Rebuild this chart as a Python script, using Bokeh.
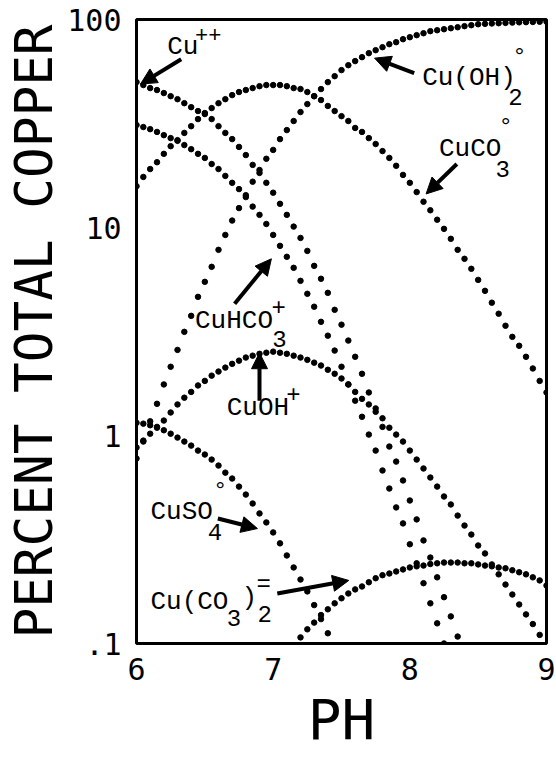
import numpy as np
from bokeh.plotting import figure
from bokeh.models import Arrow, NormalHead, FixedTicker, Range1d, Label
from bokeh.embed import file_html
from bokeh.resources import INLINE

# pH grid (every 0.05 pH unit, 6.00 .. 9.00)
ph_grid = [round(6.0 + 0.05 * i, 2) for i in range(61)]

# Percent of total copper for each species
cu_pp = [50.0, 48.4, 46.8, 45.8, 44.3, 42.8, 41.4, 39.6, 37.9, 36.3, 35.1, 33.2, 30.7, 28.5, 26.6, 24.4,
         22.3, 20.0, 18.3, 16.4, 14.7, 13.0, 11.5, 10.1, 8.91, 7.72, 6.54, 5.67, 4.85, 4.02, 3.41, 2.86,
         2.39, 1.98, 1.61, 1.35, 1.10, 0.885, 0.749, 0.608, 0.487, 0.395, 0.313, 0.259, 0.208, 0.167,
         0.135, 0.108]
cuhco3 = [31.1, 30.4, 29.7, 28.8, 27.8, 26.9, 26.1, 24.9, 23.8, 22.6, 21.6, 20.2, 19.1, 17.7, 16.4, 15.3,
          14.0, 12.6, 11.5, 10.4, 9.21, 8.16, 7.23, 6.40, 5.54, 4.80, 4.16, 3.52, 3.02, 2.56, 2.14, 1.76,
          1.47, 1.23, 1.01, 0.846, 0.679, 0.556, 0.451, 0.378, 0.30, 0.243, 0.195, 0.156, 0.125, 0.100]
cuco3 = [15.8, 17.5, 19.1, 20.6, 22.6, 24.6, 26.3, 28.5, 30.7, 33.2, 35.5, 37.5, 39.6, 41.4, 43.3, 44.8,
         45.8, 46.8, 47.8, 48.4, 48.4, 48.4, 47.8, 46.8, 46.3, 44.8, 42.8, 41.0, 38.4, 36.3, 34.3, 32.5,
         30.1, 28.8, 26.9, 25.2, 23.3, 21.6, 19.8, 17.9, 16.4, 14.8, 13.3, 12.1, 10.9, 9.85, 8.82, 7.81,
         7.07, 6.33, 5.60, 4.96, 4.35, 3.85, 3.37, 2.98, 2.70, 2.39, 2.10, 1.83, 1.61]
cuoh2 = [0.775, 0.935, 1.17, 1.42, 1.76, 2.14, 2.58, 3.15, 3.76, 4.64, 5.48, 6.47, 7.81, 9.21, 10.8, 12.4,
         14.3, 16.6, 18.9, 21.4, 23.6, 26.6, 29.4, 32.5, 35.9, 39.2, 42.8, 46.3, 50.0, 53.4, 57.1, 60.3,
         63.1, 65.9, 68.9, 71.2, 73.6, 76.1, 77.8, 80.4, 82.2, 84.1, 85.9, 87.9, 88.8, 89.8, 90.8, 91.8,
         92.9, 93.9, 94.9, 95.3, 95.7, 96.0, 96.3, 96.6, 96.9, 97.1, 97.3, 97.5, 97.6]
cuoh = [0.875, 0.945, 1.02, 1.10, 1.18, 1.29, 1.41, 1.52, 1.62, 1.74, 1.83, 1.94, 2.03, 2.12, 2.21, 2.29,
        2.37, 2.42, 2.47, 2.50, 2.53, 2.50, 2.47, 2.42, 2.37, 2.31, 2.24, 2.17, 2.07, 1.98, 1.88, 1.76,
        1.62, 1.50, 1.41, 1.30, 1.21, 1.09, 1.01, 0.935, 0.846, 0.766, 0.694, 0.628, 0.568, 0.509, 0.466,
        0.412, 0.369, 0.334, 0.296, 0.271, 0.240, 0.215, 0.192, 0.172, 0.154, 0.138, 0.124, 0.110, 0.098]
cuso4 = [1.15, 1.14, 1.12, 1.09, 1.06, 1.02, 0.977, 0.935, 0.894, 0.846, 0.810, 0.766, 0.717, 0.663, 0.621,
         0.568, 0.520, 0.471, 0.422, 0.382, 0.342, 0.303, 0.265, 0.232, 0.203, 0.178, 0.153, 0.131, 0.112,
         0.095]
cuco3_2 = [0.097, 0.107, 0.117, 0.126, 0.137, 0.146, 0.156, 0.165, 0.174, 0.182, 0.188, 0.197, 0.206,
           0.213, 0.217, 0.222, 0.227, 0.232, 0.235, 0.237, 0.241, 0.243, 0.245, 0.245, 0.245, 0.243,
           0.243, 0.240, 0.237, 0.235, 0.232, 0.230, 0.225, 0.220, 0.215, 0.208, 0.201, 0.190]
cuco3_2_start = 23  # first grid index of the Cu(CO3)2= series

x_ticks = [6, 7, 8, 9]
y_ticks = [0.1, 1, 10, 100]
y_tick_labels = [".1", "1", "10", "100"]
x_title = "PH"
y_title = "PERCENT TOTAL COPPER"

series = [
    (cu_pp, 0), (cuhco3, 0), (cuco3, 0), (cuoh2, 0), (cuoh, 0), (cuso4, 0), (cuco3_2, cuco3_2_start),
]

p = figure(width=556, height=763, output_backend="svg", toolbar_location=None,
           y_axis_type="log", x_range=Range1d(6, 9), y_range=Range1d(0.1, 100),
           min_border_left=136, min_border_top=19, min_border_right=10, min_border_bottom=120)
p.grid.visible = False
p.outline_line_color = "black"
p.outline_line_width = 3
p.background_fill_color = "white"
p.border_fill_color = "white"

for vals, start in series:
    xs = ph_grid[start:start + len(vals)]
    p.scatter(xs, vals, size=5.5, color="black")

AX_FONT = "DejaVu Sans Mono"
p.xaxis.ticker = FixedTicker(ticks=x_ticks)
p.yaxis.ticker = FixedTicker(ticks=y_ticks)
p.yaxis.major_label_overrides = {t: l for t, l in zip(y_ticks, y_tick_labels)}
for ax in (p.xaxis, p.yaxis):
    ax.axis_line_color = None
    ax.major_tick_line_color = None
    ax.minor_tick_line_color = None
    ax.major_label_text_font = AX_FONT
    ax.major_label_text_font_size = "30px"
    ax.major_label_text_color = "black"
    ax.axis_label_text_font = AX_FONT
    ax.axis_label_text_font_style = "normal"
    ax.axis_label_text_color = "black"
p.xaxis.major_label_standoff = 8
p.yaxis.major_label_standoff = 9
p.xaxis.axis_label = x_title
p.xaxis.axis_label_text_font_size = "56px"
p.xaxis.axis_label_standoff = 4
p.yaxis.axis_label = y_title
p.yaxis.axis_label_text_font_size = "51px"
p.yaxis.axis_label_standoff = 0

TF = "Liberation Mono"
labels = [
    ("Cu", 6.225, 73.6, 26), ("++", 6.428, 85.0, 22),
    ("Cu(OH)", 8.09, 52.2, 26), ("2", 8.721, 42.4, 24), ("°", 8.75, 65.9, 24),
    ("CuCO", 8.213, 23.8, 26), ("3", 8.627, 19.1, 24), ("°", 8.649, 30.4, 24),
    ("CuHCO", 6.428, 3.56, 26), ("3", 6.994, 2.92, 24), ("+", 6.987, 4.16, 24),
    ("CuOH", 6.66, 1.35, 26), ("+", 7.096, 1.59, 24),
    ("CuSO", 6.102, 0.427, 26), ("4", 6.522, 0.342, 24), ("°", 6.559, 0.538, 24),
    ("Cu(CO", 6.102, 0.1577, 26), ("3", 6.66, 0.132, 24), (")", 6.769, 0.165, 26),
    ("2", 6.885, 0.138, 24), ("=", 6.878, 0.192, 24),
]
for txt, x, y, fs in labels:
    p.add_layout(Label(x=x, y=y, text=txt, text_font=TF, text_font_size=f"{fs}px",
                       text_baseline="middle", text_align="left", text_color="black"))

arrows = [
    (6.327, 64.4, 6.029, 48.9),
    (8.032, 55.2, 7.742, 65.2),
    (8.344, 20.2, 8.119, 14.5),
    (6.718, 4.30, 6.987, 7.07),
    (6.90, 1.47, 6.90, 2.50),
    (6.595, 0.399, 6.885, 0.357),
    (7.03, 0.174, 7.553, 0.201),
]
for xs, ys, xe, ye in arrows:
    p.add_layout(Arrow(end=NormalHead(size=16, fill_color="black", line_color="black"),
                       x_start=xs, y_start=ys, x_end=xe, y_end=ye,
                       line_width=4, line_color="black"))

open("out.html", "w").write(file_html(p, INLINE))
